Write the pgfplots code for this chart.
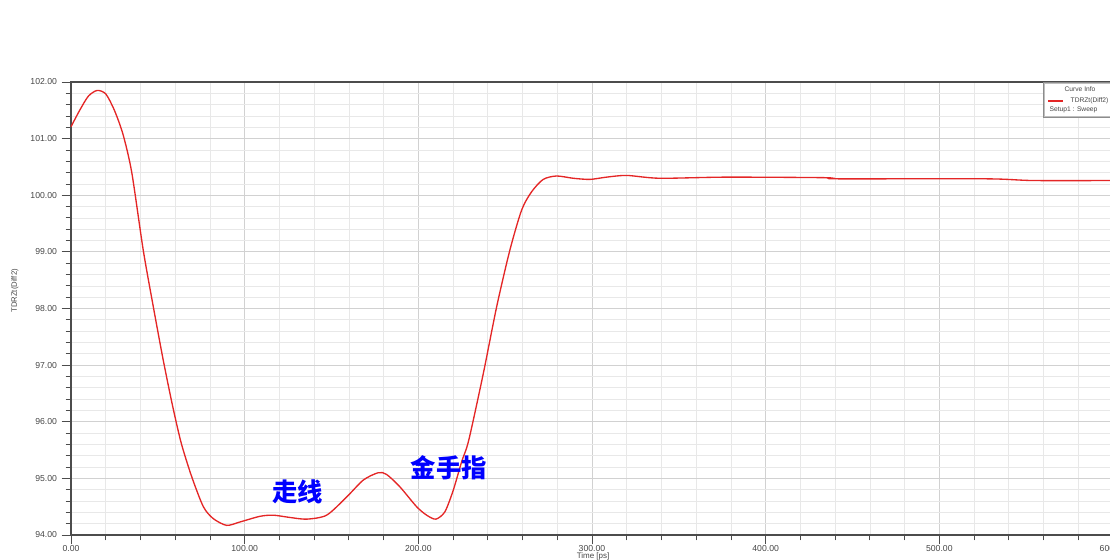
\documentclass[border=0pt]{standalone}
\usepackage{pgfplots}
\pgfplotsset{compat=1.18}
\usepackage{fontspec}
\setmainfont{Liberation Sans}
\newfontfamily\cjk{Noto Sans CJK SC}
\definecolor{curvered}{RGB}{228,38,38}
\definecolor{txtgray}{RGB}{70,70,70}
\definecolor{anblue}{RGB}{0,0,255}
\begin{document}
\begin{tikzpicture}[x=0.75pt,y=0.75pt]
\begin{axis}[
  name=ax,
  at={(0,0)}, anchor=south west,
  scale only axis,
  width=781.5pt, height=339.75pt,
  xmin=0, xmax=600, ymin=94, ymax=102,
  xtick={0,100,...,600}, ytick={94,95,...,102},
  minor x tick num=4, minor y tick num=4,
  tick pos=left,
  grid=both,
  major grid style={draw=black!18, line width=0.6pt},
  minor grid style={draw=black!9, line width=0.5pt},
  tick align=outside,
  major tick length=7pt,
  minor tick length=4pt,
  tick style={draw=black!70, line width=0.6pt},
  axis line style={draw=black!70, line width=0.8pt},
  xticklabel style={font=\fontsize{6.5}{7}\selectfont, text=txtgray, yshift=3pt},
  yticklabel style={font=\fontsize{6.5}{7}\selectfont, text=txtgray},
  /pgf/number format/.cd, fixed, fixed zerofill, precision=2, 1000 sep={}, assume math mode=true,
  /pgfplots/.cd,
  xlabel={Time [ps]},
  every axis x label/.style={at={(axis description cs:0.501,0)}, anchor=center, yshift=-16.2pt,
     font=\fontsize{6}{7}\selectfont, text=txtgray},
  ylabel={TDRZt(Diff2)},
  every axis y label/.style={at={(axis description cs:-0.0538,0.539)}, anchor=center, rotate=90,
     font=\fontsize{5.8}{7}\selectfont, text=txtgray},
  clip=false,
]
\addplot[curvered, line width=1.0pt, smooth, tension=0.45] coordinates {
(0,101.21) (5,101.50) (10,101.75) (15,101.85) (20,101.79) (25,101.50)
(30,101.07) (35,100.40) (41.6,99.03) (47.4,98.03) (53.1,97.09)
(58.5,96.28) (63.5,95.62) (69.5,95.03) (76.2,94.50) (81.9,94.29)
(89.6,94.17) (97.3,94.23) (108.8,94.33) (116.5,94.35) (126,94.31)
(135.7,94.28) (147.2,94.35) (158.7,94.67) (168.3,94.97) (176.9,95.10)
(181.7,95.07) (189.4,94.85) (199,94.50) (204.8,94.35) (210.1,94.28)
(215.3,94.41) (220.1,94.79) (225,95.30) (229,95.67) (237.4,96.85)
(245.1,98.03) (252.7,99.03) (259.5,99.74) (265.2,100.06) (271.9,100.28)
(279.6,100.34) (289.2,100.30) (298.8,100.28) (308.4,100.32) (320,100.35)
(339,100.30) (377.5,100.32) (435,100.31) (441,100.29) (527,100.29)
(554,100.26) (600,100.26)
};
\node[font=\cjk\fontsize{19}{20}\selectfont\bfseries, text=anblue] at (axis cs:130.7,94.76) {走线};
\node[font=\cjk\fontsize{19}{20}\selectfont\bfseries, text=anblue] at (axis cs:217.6,95.18) {金手指};
\end{axis}
% legend box (Curve Info)
\begin{scope}[shift={(972,453)}]
  \fill[white] (0,0) rectangle (90,-35);
  \draw[black!45, line width=0.6pt] (0,0) rectangle (90,-35);
  \draw[black!25, line width=0.5pt] (1,-1) rectangle (89,-34);
  \node[font=\fontsize{5}{6}\selectfont, text=txtgray] at (37,-7) {Curve Info};
  \draw[curvered, line width=1.4pt] (5,-19) -- (20,-19);
  \node[font=\fontsize{5}{6}\selectfont, text=txtgray, anchor=west] at (23,-19) {TDRZt(Diff2)};
  \node[font=\fontsize{5}{6}\selectfont, text=txtgray, anchor=west] at (2,-28) {Setup1 : Sweep};
\end{scope}
\pgfresetboundingbox
\path[use as bounding box] (-71,-25) rectangle (1039,535);
\end{tikzpicture}
\end{document}
